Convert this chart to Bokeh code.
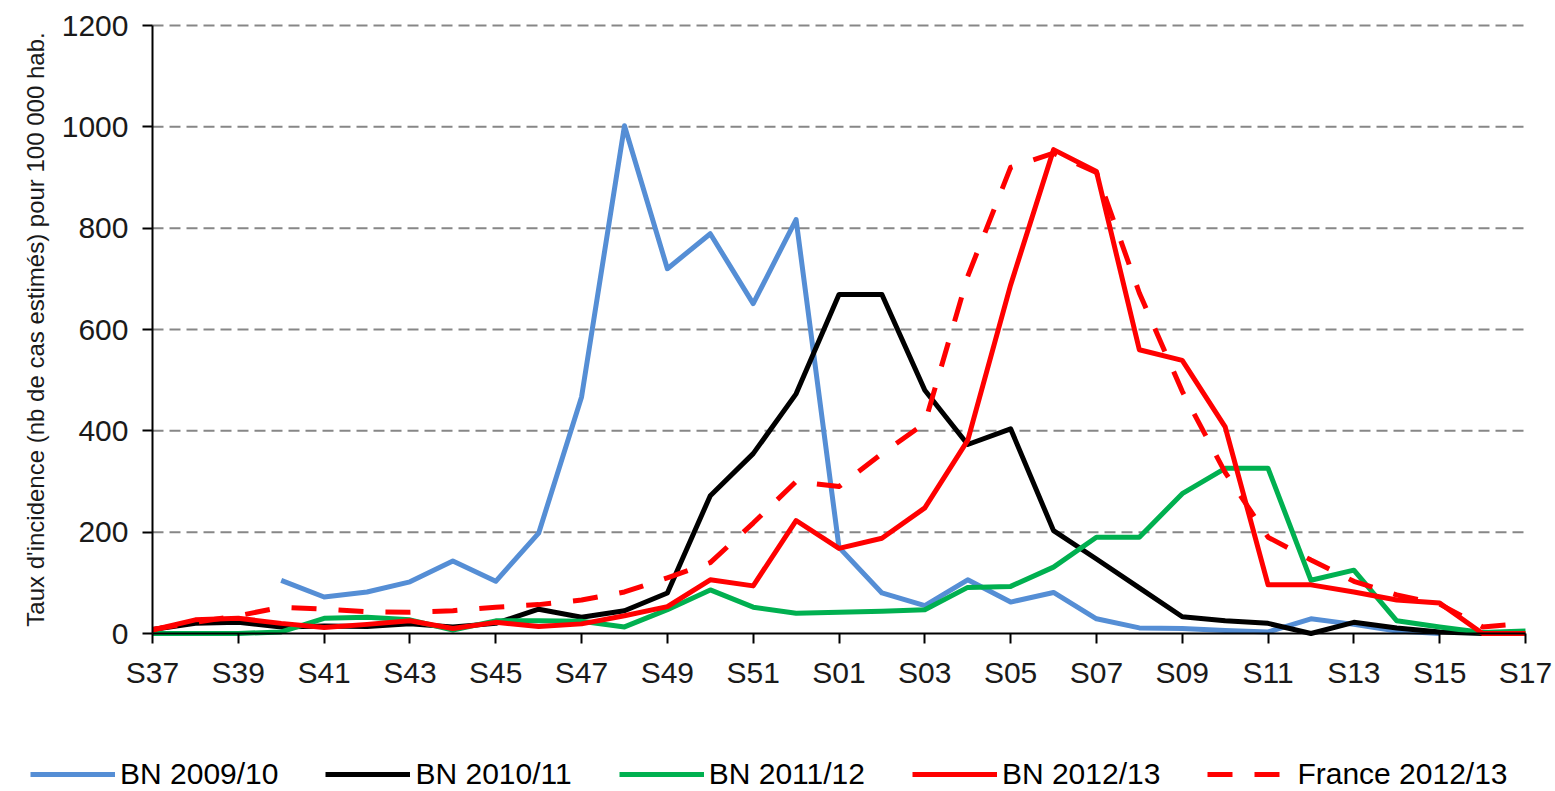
from bokeh.plotting import figure
from bokeh.models import Range1d, FixedTicker, Legend, LegendItem
from bokeh.embed import file_html
from bokeh.resources import INLINE

nan = float("nan")

weeks = ["S37", "S38", "S39", "S40", "S41", "S42", "S43", "S44", "S45", "S46",
         "S47", "S48", "S49", "S50", "S51", "S52", "S01", "S02", "S03", "S04",
         "S05", "S06", "S07", "S08", "S09", "S10", "S11", "S12", "S13", "S14",
         "S15", "S16", "S17"]

bn_2009_10 = [nan, nan, nan, 105, 72, 82, 102, 143, 103, 198,
              467, 1002, 720, 789, 651, 817, 170, 80, 55, 106,
              62, 81, 29, 11, 10, 6, 3, 29, 18, 5,
              0, nan, nan]

bn_2010_11 = [8, 20, 22, 13, 15, 14, 19, 13, 20, 48,
              32, 45, 80, 272, 355, 473, 669, 669, 480, 373,
              404, 203, 147, 90, 33, 25, 20, 0, 22, 11,
              3, 0, nan]

bn_2011_12 = [0, 0, 0, 3, 30, 32, 27, 7, 25, 25,
              24, 13, 47, 86, 52, 40, 42, 44, 47, 91,
              93, 131, 190, 190, 276, 326, 326, 105, 125, 25,
              13, 2, 5]

bn_2012_13 = [7, 27, 30, 20, 12, 18, 25, 10, 22, 14,
              19, 35, 53, 106, 94, 223, 168, 188, 248, 381,
              688, 955, 912, 560, 539, 408, 96, 96, 82, 66,
              60, 0, 0]

france_2012_13 = [8, 22, 35, 52, 48, 43, 42, 45, 52, 57,
                  66, 82, 110, 140, 218, 300, 290, 355, 415, 705,
                  920, 948, 910, 672, 478, 318, 190, 145, 103, 76,
                  58, 13, 20]

y_ticks = [0, 200, 400, 600, 800, 1000, 1200]

series_labels = ["BN 2009/10", "BN 2010/11", "BN 2011/12", "BN 2012/13", "France 2012/13"]
series_colors = ["#558ED5", "#000000", "#00B050", "#FF0000", "#FF0000"]
series_dash = ["solid", "solid", "solid", "solid", "25 22"]

x = list(range(len(weeks)))
n_last = len(weeks) - 1
y_max = y_ticks[-1]

FONT = "Liberation Sans"
LW = 5

# ---- page geometry (pixels): the frame covers the whole canvas, the axes are
# pinned at x=0 / y=0 so that the legend can sit inside the frame below them.
W, H = 1555, 791
PX_LEFT, PX_RIGHT = 152, 1525      # where first / last week fall
PX_TOP, PX_ZERO = 25, 633          # where y_max / 0 fall
sx = (PX_RIGHT - PX_LEFT) / n_last
sy = (PX_ZERO - PX_TOP) / y_max
x_range = Range1d(-PX_LEFT / sx, n_last + (W - PX_RIGHT) / sx)
y_range = Range1d(-(H - PX_ZERO) / sy, y_max + PX_TOP / sy)

p = figure(width=W, height=H, x_range=x_range, y_range=y_range,
           output_backend="svg", toolbar_location=None,
           min_border_left=0, min_border_right=0,
           min_border_top=0, min_border_bottom=0)
p.outline_line_color = None
p.background_fill_color = "white"
p.border_fill_color = "white"

# horizontal dashed gridlines, limited to the plotting area
p.xgrid.visible = False
p.ygrid.visible = False
grid_y = [t for t in y_ticks if t > 0]
p.segment(x0=[0] * len(grid_y), y0=grid_y, x1=[n_last] * len(grid_y), y1=grid_y,
          line_color="#878787", line_dash="11 6", line_width=2, level="underlay")

# X axis pinned at y = 0
p.xaxis.fixed_location = 0
p.xaxis.bounds = (0, n_last)
p.xaxis.ticker = FixedTicker(ticks=list(range(0, len(weeks), 2)))
p.xaxis.major_label_overrides = {i: weeks[i] for i in range(0, len(weeks), 2)}
p.xaxis.major_tick_out = 10
p.xaxis.major_tick_in = 0
p.xaxis.minor_tick_out = 0
p.xaxis.minor_tick_in = 0
p.xaxis.major_label_standoff = 12
p.xaxis.axis_line_color = "black"
p.xaxis.axis_line_width = 2
p.xaxis.major_tick_line_width = 2
p.xaxis.major_label_text_font = FONT
p.xaxis.major_label_text_font_size = "30px"
p.xaxis.major_label_text_color = "#1a1a1a"

# Y axis pinned at x = 0
p.yaxis.fixed_location = 0
p.yaxis.bounds = (0, y_max)
p.yaxis.ticker = FixedTicker(ticks=y_ticks)
p.yaxis.major_tick_out = 10
p.yaxis.major_tick_in = 0
p.yaxis.minor_tick_out = 0
p.yaxis.minor_tick_in = 0
p.yaxis.major_label_standoff = 14
p.yaxis.axis_line_color = "black"
p.yaxis.axis_line_width = 2
p.yaxis.major_tick_line_width = 2
p.yaxis.major_label_text_font = FONT
p.yaxis.major_label_text_font_size = "30px"
p.yaxis.major_label_text_color = "#1a1a1a"
p.yaxis.axis_label = "Taux d'incidence (nb de cas estimés) pour 100 000 hab."
p.yaxis.axis_label_text_font = FONT
p.yaxis.axis_label_text_font_size = "24px"
p.yaxis.axis_label_text_font_style = "normal"
p.yaxis.axis_label_text_color = "#1a1a1a"
p.yaxis.axis_label_standoff = 10

series_values = [bn_2009_10, bn_2010_11, bn_2011_12, bn_2012_13, france_2012_13]
renderers = []
for vals, col, dash in zip(series_values, series_colors, series_dash):
    renderers.append(p.line(x, vals, line_color=col, line_width=LW,
                            line_join="round", line_dash=dash))

items = [LegendItem(label=lab, renderers=[r]) for lab, r in zip(series_labels, renderers)]
legend = Legend(items=items, orientation="horizontal", location=(30, 0),
                glyph_width=85, glyph_height=30, label_standoff=5, spacing=47,
                padding=0, margin=0, border_line_alpha=0, background_fill_alpha=0,
                label_text_font=FONT, label_text_font_size="30px",
                label_text_color="#000000", label_height=30)
p.add_layout(legend)

open("out.html", "w").write(file_html(p, INLINE))
